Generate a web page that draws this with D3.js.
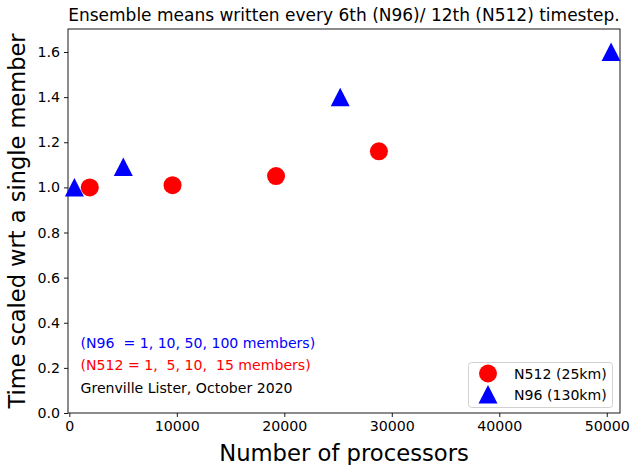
<!DOCTYPE html>
<html>
<head>
<meta charset="utf-8">
<script src="https://cdn.jsdelivr.net/npm/d3@7"></script>
<style>
  body { margin: 0; background: #fff; }
  text { font-family: "DejaVu Sans", sans-serif; white-space: pre; }
</style>
</head>
<body>
<div id="chart"></div>
<script>
// processors / scaled time
const n512Procs = [1900, 9600, 19230, 28800];
const n512Time = [1.00, 1.01, 1.05, 1.16];
const n96Procs = [470, 5020, 25200, 50400];
const n96Time = [1.00, 1.09, 1.40, 1.60];

const xTicks = [0, 10000, 20000, 30000, 40000, 50000];
const yTicks = [0, 0.2, 0.4, 0.6, 0.8, 1.0, 1.2, 1.4, 1.6];

const notes = [
  { text: "(N96  = 1, 10, 50, 100 members)", color: "blue" },
  { text: "(N512 = 1,  5, 10,  15 members)", color: "red" },
  { text: "Grenville Lister, October 2020", color: "black" }
];

let width = 632,
    height = 465,
    margin = ({ top: 29, right: 12, bottom: 52, left: 68 });

const svg = d3.select("#chart")
  .append("svg")
  .attr("width", width)
  .attr("height", height);

let x = d3.scaleLinear()
  .domain([-125, 51230])
  .range([margin.left, width - margin.right]);

let y = d3.scaleLinear()
  .domain([0, 1.702])
  .range([height - margin.bottom, margin.top]);

let xAxis = svg.append("g")
  .attr("transform", `translate(0,${height - margin.bottom})`)
  .call(d3.axisBottom(x).tickValues(xTicks).tickSize(4).tickPadding(4).tickFormat(d3.format("d")));

let yAxis = svg.append("g")
  .attr("transform", `translate(${margin.left},0)`)
  .call(d3.axisLeft(y).tickValues(yTicks).tickSize(4).tickPadding(4).tickFormat(d3.format(".1f")));

for (let g of [xAxis, yAxis]) {
  g.select(".domain").remove();
  g.selectAll("text").attr("font-size", 14.2).attr("font-family", "DejaVu Sans").attr("fill", "#000");
  g.selectAll("line").attr("stroke", "#000").attr("stroke-width", 0.9);
}

// frame
svg.append("rect")
  .attr("x", margin.left)
  .attr("y", margin.top)
  .attr("width", width - margin.left - margin.right)
  .attr("height", height - margin.top - margin.bottom)
  .attr("fill", "none")
  .attr("stroke", "#000")
  .attr("stroke-width", 0.9);

// N512 circles
svg.append("g")
  .selectAll("circle")
  .data(n512Procs)
  .join("circle")
  .attr("cx", d => x(d))
  .attr("cy", (d, i) => y(n512Time[i]))
  .attr("r", 9)
  .attr("fill", "red");

// N96 triangles
let triPath = "M0,-9.5L9.5,9L-9.5,9Z";

svg.append("g")
  .selectAll("path")
  .data(n96Procs)
  .join("path")
  .attr("transform", (d, i) => `translate(${x(d)},${y(n96Time[i])})`)
  .attr("d", triPath)
  .attr("fill", "blue");

// notes
svg.append("g")
  .selectAll("text")
  .data(notes)
  .join("text")
  .attr("x", 80.5)
  .attr("y", (d, i) => 347.5 + i * 22.5)
  .attr("font-size", 14.1)
  .attr("fill", d => d.color)
  .text(d => d.text);

// legend
let legend = svg.append("g");
legend.append("rect")
  .attr("x", 468.5)
  .attr("y", 362.5)
  .attr("width", 144)
  .attr("height", 45)
  .attr("rx", 3)
  .attr("fill", "#fff")
  .attr("stroke", "#ccc")
  .attr("stroke-width", 0.9);
legend.append("circle")
  .attr("cx", 488).attr("cy", 373.5).attr("r", 9).attr("fill", "red");
legend.append("path")
  .attr("transform", "translate(488,394.5)")
  .attr("d", triPath)
  .attr("fill", "blue");
legend.append("text").attr("x", 514).attr("y", 378.5).attr("font-size", 14.1).text("N512 (25km)");
legend.append("text").attr("x", 514).attr("y", 399.5).attr("font-size", 14.1).text("N96 (130km)");

// titles
svg.append("text")
  .attr("x", (margin.left + width - margin.right) / 2)
  .attr("y", 21)
  .attr("text-anchor", "middle")
  .attr("font-size", 17)
  .text("Ensemble means written every 6th (N96)/ 12th (N512) timestep.");

svg.append("text")
  .attr("x", (margin.left + width - margin.right) / 2)
  .attr("y", 461)
  .attr("text-anchor", "middle")
  .attr("font-size", 22.7)
  .text("Number of processors");

svg.append("text")
  .attr("transform", `translate(25,${(margin.top + height - margin.bottom) / 2}) rotate(-90)`)
  .attr("text-anchor", "middle")
  .attr("font-size", 22.5)
  .text("Time scaled wrt a single member");
</script>
</body>
</html>
